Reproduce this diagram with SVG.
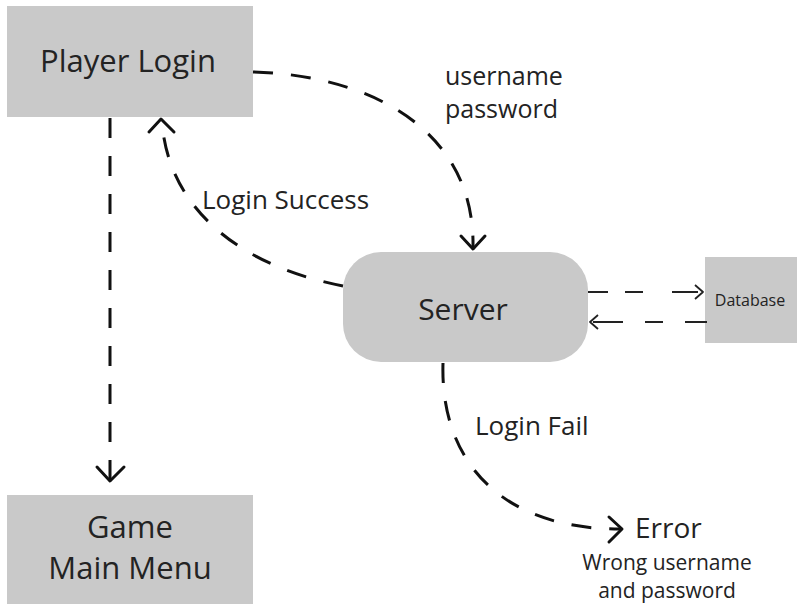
<svg xmlns="http://www.w3.org/2000/svg" width="797" height="604" viewBox="0 0 797 604">
  <style>
    .box { fill: #c9c9c9; }
    .label { font-family: "Open Sans", "Liberation Sans", sans-serif; fill: #232323; }
    .flow { fill: none; stroke: #111; stroke-width: 3; stroke-dasharray: 20 18; }
    .flow-thin { fill: none; stroke: #222; stroke-width: 1.8; }
    .head { fill: none; stroke: #111; stroke-width: 3; stroke-linecap: round; stroke-linejoin: round; }
    .head-thin { fill: none; stroke: #222; stroke-width: 1.8; stroke-linejoin: round; }
  </style>
  <rect width="797" height="604" fill="#fff"/>

  <g id="player-login">
    <rect class="box" x="7" y="6" width="246" height="111"/>
    <text class="label" x="128" y="72" font-size="31" text-anchor="middle">Player Login</text>
  </g>

  <g id="server">
    <rect class="box" x="343" y="252" width="245" height="110" rx="38" ry="38"/>
    <text class="label" x="463" y="320" font-size="30" text-anchor="middle">Server</text>
  </g>

  <g id="database">
    <rect class="box" x="705" y="257" width="92" height="86"/>
    <text class="label" x="750" y="306" font-size="16" text-anchor="middle">Database</text>
  </g>

  <g id="game-main-menu">
    <rect class="box" x="7" y="495" width="246" height="109"/>
    <text class="label" x="130" y="538" font-size="31" text-anchor="middle">Game</text>
    <text class="label" x="130" y="579" font-size="31" text-anchor="middle">Main Menu</text>
  </g>

  <g id="error">
    <text class="label" x="635" y="538" font-size="28">Error</text>
    <text class="label" x="667" y="570" font-size="21" text-anchor="middle">Wrong username</text>
    <text class="label" x="667" y="598" font-size="21" text-anchor="middle">and password</text>
  </g>

  <g id="connectors">
    <!-- Player Login -> Server -->
    <path class="flow" d="M253,72 C370,75 475,130 473,247"/>
    <polyline class="head" points="461,236 473,249 485,236"/>
    <text class="label" x="445" y="85" font-size="25">username</text>
    <text class="label" x="445" y="118" font-size="25">password</text>

    <!-- Server -> Player Login -->
    <path class="flow" d="M343,286 C235,265 168,205 162,122"/>
    <polyline class="head" points="149,132 161,119 174,132"/>
    <text class="label" x="202" y="209" font-size="26">Login Success</text>

    <!-- Player Login -> Game Main Menu -->
    <path class="flow" d="M110,118 L110,480"/>
    <polyline class="head" points="97,467 110,481 124,467"/>

    <!-- Server <-> Database -->
    <path class="flow-thin" stroke-dasharray="20 17 18 29 26" d="M588,292 L700,292"/>
    <polyline class="head-thin" points="695,285 703,292 695,299"/>
    <path class="flow-thin" stroke-dasharray="22 22 18 22 30" d="M707,322 L593,322"/>
    <polyline class="head-thin" points="598,315 590,322 598,329"/>

    <!-- Server -> Error -->
    <path class="flow" d="M443,363 C440,460 500,530 622,529"/>
    <polyline class="head" points="609,517 622,529 609,542"/>
    <text class="label" x="475" y="435" font-size="26">Login Fail</text>
  </g>
</svg>
